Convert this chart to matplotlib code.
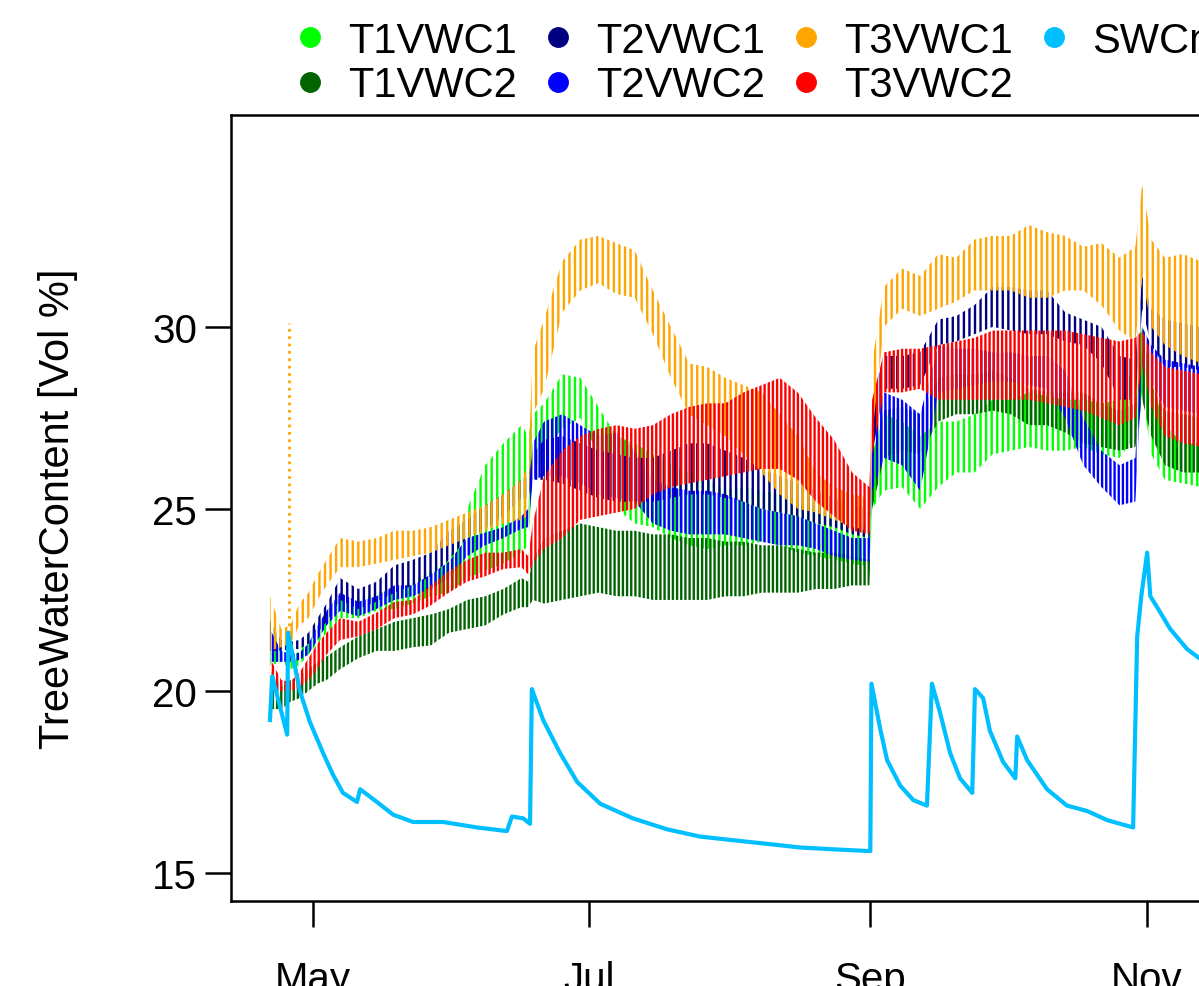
import numpy as np
import pandas as pd
import matplotlib
matplotlib.use("Agg")
import matplotlib.pyplot as plt
from matplotlib.lines import Line2D

plt.rcParams['font.family'] = ['Liberation Sans', 'DejaVu Sans']
plt.rcParams['hatch.linewidth'] = 1.7

base = pd.Timestamp('2019-05-01')

# sampling days (days since 1 May) for the daily min / max bands of the sap-wood sensors
band_days = [-9.5, -7, -5, -3, -1, 1, 3, 6, 10, 14, 18, 22, 26, 30, 34, 38, 42, 46, 47.5, 48.5,
             51, 55, 59, 63, 67, 71, 75, 79, 83, 87, 91, 95, 99, 103, 107, 111, 115, 119, 122.8, 123.4,
             126, 130, 134, 138, 142, 146, 150, 154, 158, 162, 166, 170, 174, 178, 181.5, 183,
             185, 188, 192, 196, 202]

t1vwc1_lo = [20.7, 20.8, 20.6, 20.7, 21.0, 21.3, 21.6, 22.0, 22.0, 22.2, 22.25, 22.4, 22.6, 22.7, 23.1, 23.3, 23.5, 23.8, 24.0, 26.0,
             26.6, 27.2, 27.5, 26.5, 25.0, 24.6, 24.5, 24.2, 24.0, 23.9, 24.0, 24.0, 24.1, 24.0, 23.8, 23.7, 23.6, 23.5, 23.4, 25.0,
             25.5, 25.6, 25.0, 25.6, 26.0, 26.0, 26.5, 26.6, 26.7, 26.6, 26.6, 26.7, 26.5, 26.4, 27.0, 28.2,
             26.5, 25.8, 25.7, 25.6, 25.5]
t1vwc1_hi = [22.0, 21.2, 20.9, 21.1, 21.5, 21.8, 22.2, 22.6, 22.5, 22.7, 22.8, 23.0, 23.3, 23.6, 25.0, 26.2, 26.8, 27.3, 27.0, 27.6,
             27.9, 28.7, 28.6, 27.8, 27.0, 26.8, 26.5, 26.2, 26.0, 25.8, 25.5, 25.6, 25.5, 25.4, 25.2, 25.0, 24.8, 24.6, 24.5, 26.5,
             27.6, 27.4, 27.0, 27.4, 27.4, 27.6, 28.0, 28.0, 28.2, 28.1, 28.0, 28.0, 27.9, 28.0, 29.0, 30.0,
             28.5, 27.3, 26.8, 26.8, 26.6]

t1vwc2_lo = [19.5, 19.5, 19.7, 19.8, 20.0, 20.2, 20.3, 20.6, 20.9, 21.1, 21.1, 21.2, 21.25, 21.6, 21.7, 21.8, 22.1, 22.3, 22.3, 22.5,
             22.4, 22.5, 22.6, 22.7, 22.6, 22.6, 22.5, 22.5, 22.5, 22.5, 22.6, 22.6, 22.7, 22.7, 22.7, 22.8, 22.8, 22.9, 22.9, 25.0,
             26.4, 26.6, 26.5, 27.4, 27.6, 27.6, 27.7, 27.6, 27.3, 27.3, 27.1, 26.8, 26.7, 26.6, 26.7, 28.0,
             27.0, 26.2, 26.0, 26.0, 25.9]
t1vwc2_hi = [20.6, 20.1, 20.3, 20.4, 20.6, 20.8, 20.95, 21.2, 21.5, 21.7, 21.9, 22.0, 22.1, 22.25, 22.5, 22.6, 22.8, 23.1, 23.0, 23.6,
             24.2, 24.4, 24.6, 24.5, 24.4, 24.4, 24.3, 24.3, 24.2, 24.2, 24.1, 24.1, 24.0, 24.0, 23.9, 23.8, 23.8, 23.7, 23.6, 26.3,
             27.7, 27.8, 27.6, 28.6, 28.7, 28.7, 28.8, 28.6, 28.3, 28.2, 28.2, 28.2, 27.9, 27.7, 27.9, 29.2,
             28.4, 27.7, 27.6, 27.5, 27.4]

t2vwc1_lo = [21.1, 21.1, 21.15, 21.15, 21.3, 21.6, 21.9, 22.5, 22.25, 22.45, 22.7, 22.9, 23.15, 23.6, 24.2, 24.45, 24.8, 25.3, 25.3, 25.8,
             25.8, 25.7, 25.5, 25.3, 25.2, 25.2, 25.2, 25.3, 25.4, 25.4, 25.3, 25.2, 25.0, 24.9, 24.8, 24.6, 24.5, 24.3, 24.2, 26.5,
             28.3, 28.3, 28.4, 29.5, 29.6, 29.8, 30.0, 29.9, 29.8, 29.8, 29.6, 29.5, 29.0, 28.0, 28.0, 30.5,
             29.5, 28.9, 28.9, 28.8, 28.6]
t2vwc1_hi = [21.9, 21.4, 21.35, 21.4, 21.6, 22.0, 22.4, 23.1, 22.8, 23.0, 23.45, 23.6, 23.8, 24.4, 24.7, 25.1, 25.4, 25.8, 25.9, 26.5,
             26.9, 27.0, 26.8, 26.6, 26.5, 26.4, 26.4, 26.6, 26.8, 26.8, 26.6, 26.4, 26.1, 25.9, 25.7, 25.5, 25.3, 25.1, 25.0, 28.0,
             29.2, 29.2, 29.3, 30.2, 30.3, 30.6, 31.1, 31.1, 31.0, 31.0, 30.4, 30.2, 30.0, 29.2, 29.1, 31.4,
             30.5, 30.2, 30.1, 30.0, 29.9]

t2vwc2_lo = [20.8, 20.8, 20.8, 20.85, 21.0, 21.4, 21.8, 22.2, 22.05, 22.25, 22.5, 22.6, 22.8, 23.1, 23.7, 24.0, 24.2, 24.45, 24.5, 25.8,
             25.9, 25.9, 25.7, 25.4, 25.3, 25.2, 24.6, 24.4, 24.3, 24.3, 24.3, 24.2, 24.1, 24.0, 24.0, 23.9, 23.7, 23.6, 23.55, 25.5,
             26.4, 26.2, 25.5, 28.2, 28.3, 28.4, 28.5, 28.5, 28.4, 28.3, 27.5, 26.2, 25.6, 25.1, 25.2, 28.9,
             28.5, 27.8, 27.7, 27.6, 27.5]
t2vwc2_hi = [21.7, 21.1, 21.0, 21.05, 21.3, 21.8, 22.2, 22.7, 22.45, 22.6, 22.9, 22.9, 23.2, 23.55, 24.2, 24.35, 24.5, 24.8, 25.0, 26.8,
             27.4, 27.6, 27.3, 27.0, 27.1, 26.6, 25.8, 25.6, 25.5, 25.5, 25.4, 25.2, 25.0, 24.9, 24.8, 24.6, 24.4, 24.2, 24.2, 27.0,
             28.2, 28.0, 27.6, 29.5, 29.4, 29.4, 29.3, 29.3, 29.2, 29.2, 28.8, 27.5, 26.6, 26.2, 26.4, 30.0,
             29.5, 29.1, 29.0, 28.9, 28.8]

t3vwc1_lo = [21.1, 21.2, 21.3, 21.8, 22.0, 22.5, 22.9, 23.4, 23.4, 23.5, 23.6, 23.7, 23.8, 24.0, 24.2, 24.4, 24.6, 24.7, 24.8, 27.6,
             28.3, 30.4, 31.0, 31.2, 30.9, 30.8, 29.8, 28.6, 27.6, 27.3, 27.0, 26.5, 26.0, 25.4, 25.0, 24.9, 24.7, 24.5, 24.4, 27.0,
             30.0, 30.5, 30.3, 30.5, 30.7, 31.0, 31.0, 31.0, 30.8, 30.8, 31.0, 31.0, 30.6, 29.9, 29.6, 31.4,
             30.0, 29.5, 29.2, 29.0, 28.8]
t3vwc1_hi = [22.6, 21.7, 21.8, 22.4, 22.7, 23.2, 23.6, 24.2, 24.1, 24.2, 24.4, 24.4, 24.5, 24.7, 24.9, 25.1, 25.4, 25.8, 26.2, 29.3,
             30.2, 31.8, 32.4, 32.5, 32.3, 32.1, 31.0, 30.0, 29.0, 28.9, 28.6, 28.4, 28.2, 27.6, 27.0, 26.0, 25.6, 25.4, 25.3, 29.0,
             31.1, 31.6, 31.4, 32.0, 31.9, 32.4, 32.5, 32.5, 32.8, 32.6, 32.5, 32.2, 32.3, 31.9, 32.2, 33.9,
             32.4, 31.9, 32.0, 31.8, 31.5]

t3vwc2_lo = [20.0, 20.0, 20.0, 20.1, 20.3, 20.6, 21.0, 21.4, 21.5, 21.7, 22.0, 22.1, 22.35, 22.7, 23.0, 23.15, 23.35, 23.4, 23.2, 23.5,
             23.9, 24.2, 24.7, 24.8, 24.9, 25.0, 25.4, 25.6, 25.7, 25.8, 25.9, 26.0, 26.1, 26.1, 25.8, 25.2, 24.8, 24.4, 24.3, 26.5,
             28.2, 28.2, 28.3, 28.0, 28.0, 28.0, 28.0, 28.0, 28.0, 27.9, 27.8, 27.7, 27.5, 27.3, 27.5, 29.0,
             27.8, 27.0, 26.8, 26.7, 26.6]
t3vwc2_hi = [20.9, 20.3, 20.25, 20.5, 20.9, 21.3, 21.6, 22.0, 21.9, 22.15, 22.45, 22.5, 22.9, 23.3, 23.6, 23.8, 23.8, 23.9, 23.7, 24.6,
             25.9, 26.6, 27.0, 27.2, 27.3, 27.2, 27.3, 27.6, 27.8, 27.9, 27.9, 28.2, 28.4, 28.6, 28.2, 27.5, 26.9, 26.0, 25.6, 28.0,
             29.3, 29.4, 29.4, 29.5, 29.6, 29.7, 29.9, 29.9, 29.9, 29.9, 29.9, 29.8, 29.7, 29.6, 29.7, 29.9,
             29.3, 28.9, 28.8, 28.7, 28.6]

# short spike in T3VWC1 at the end of April
spike_day = [-5.2]
spike_lo = [21.6]
spike_hi = [30.1]

# soil water content
swc_days = [-9.5, -9.0, -5.7, -5.5, -2.9, -0.7, 2.2, 4.4, 6.6, 9.7, 10.4, 14.1, 17.7, 22.1, 28.7, 36.2, 42.8, 43.9,
            46.4, 47.9, 48.3, 50.8, 54.5, 58.3, 63.4, 70.6, 78.1, 85.4, 92.7, 100.2, 107.5, 114.8, 123.0, 123.25,
            125.2, 126.7, 129.6, 132.5, 135.5, 136.6, 138.4, 140.6, 142.8, 145.5, 146.1, 147.9, 149.4, 152.3, 155.0,
            155.4, 157.6, 162.0, 166.4, 170.9, 175.3, 181.0, 181.9, 182.8, 184.1, 184.8, 186.3, 189.2, 192.9, 195.6, 202.4]
swc_vals = [19.2, 20.4, 18.8, 21.6, 20.0, 19.15, 18.3, 17.7, 17.2, 16.95, 17.3, 16.95, 16.6, 16.4, 16.4, 16.25, 16.15, 16.55,
            16.5, 16.35, 20.05, 19.2, 18.3, 17.5, 16.9, 16.5, 16.2, 16.0, 15.9, 15.8, 15.7, 15.65, 15.6, 20.2,
            18.95, 18.1, 17.4, 17.0, 16.85, 20.2, 19.4, 18.3, 17.6, 17.2, 20.05, 19.8, 18.9, 18.05, 17.6,
            18.75, 18.1, 17.3, 16.85, 16.7, 16.45, 16.25, 21.5, 22.6, 23.8, 22.6, 22.3, 21.7, 21.15, 20.9, 20.4]

labels = ['T1VWC1', 'T1VWC2', 'T2VWC1', 'T2VWC2', 'T3VWC1', 'T3VWC2', 'SWCmean']
colors = ['#00FF00', '#006400', '#000080', '#0000FF', '#FFA500', '#FF0000', '#00BFFF']
bands = [(t1vwc1_lo, t1vwc1_hi), (t1vwc2_lo, t1vwc2_hi), (t2vwc1_lo, t2vwc1_hi),
         (t2vwc2_lo, t2vwc2_hi), (t3vwc1_lo, t3vwc1_hi), (t3vwc2_lo, t3vwc2_hi)]
hatches = ['|||', '||||', '|||', '||||', '|||', '||||']


def to_dates(days):
    return base + pd.to_timedelta(np.asarray(days, dtype=float), unit='D')


W, H = 1199, 987
fig = plt.figure(figsize=(W / 100, H / 100), dpi=100)
ax = fig.add_axes([231 / W, 85 / H, 1053 / W, 786 / H])

bd = to_dates(band_days)
for (lo, hi), col, hat in zip(bands, colors, hatches):
    ax.fill_between(bd, lo, hi, facecolor='none', edgecolor=col, hatch=hat, linewidth=0)

ax.vlines(to_dates(spike_day), spike_lo, spike_hi, color=colors[4], lw=2, linestyles=':')
ax.plot(to_dates(swc_days), swc_vals, color=colors[6], lw=3)

ax.set_xlim(base - pd.Timedelta(days=18.1), base + pd.Timedelta(days=214.3))
ax.set_ylim(14.23, 35.82)

ticks = [pd.Timestamp('2019-05-01'), pd.Timestamp('2019-07-01'),
         pd.Timestamp('2019-09-01'), pd.Timestamp('2019-11-01')]
ax.set_xticks(ticks)
ax.set_xticklabels(['May', 'Jul', 'Sep', 'Nov'])
ax.set_yticks([15, 20, 25, 30])
ax.tick_params(axis='both', direction='out', length=18.7, width=1.8, labelsize=29)
ax.tick_params(axis='x', pad=24)
ax.tick_params(axis='y', pad=5.8)
for s in ax.spines.values():
    s.set_linewidth(1.8)

fig.text(58 / W, 1 - 509 / H, 'TreeWaterContent [Vol %]', rotation=90,
         ha='center', va='center', fontsize=30)

handles = [Line2D([], [], ls='none', marker='o', ms=14, color=c) for c in colors]
fig.legend(handles, labels, loc='upper left', bbox_to_anchor=(289 / W, 1 - 22 / H),
           ncol=4, frameon=False, fontsize=30, handlelength=1.0, handletextpad=0.41,
           columnspacing=0.49, labelspacing=0.1, borderpad=0, borderaxespad=0)

fig.savefig('out.png', dpi=100)
